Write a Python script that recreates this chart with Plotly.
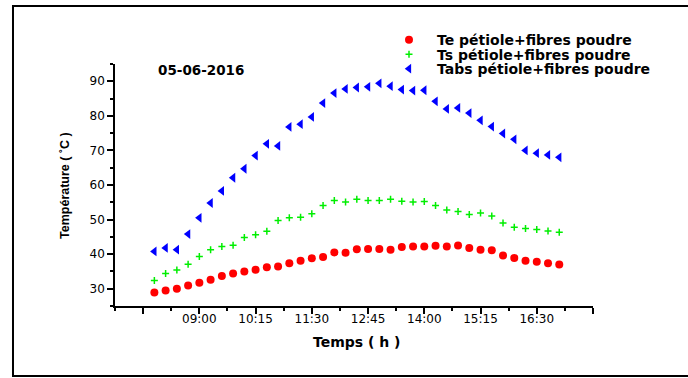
import plotly.graph_objects as go

# Sampling times (every quarter hour) and measured temperatures
times = [
    "08:00", "08:15", "08:30", "08:45", "09:00", "09:15", "09:30", "09:45",
    "10:00", "10:15", "10:30", "10:45", "11:00", "11:15", "11:30", "11:45",
    "12:00", "12:15", "12:30", "12:45", "13:00", "13:15", "13:30", "13:45",
    "14:00", "14:15", "14:30", "14:45", "15:00", "15:15", "15:30", "15:45",
    "16:00", "16:15", "16:30", "16:45", "17:00",
]

te = [28.9, 29.5, 30.0, 30.9, 31.7, 32.6, 33.7, 34.4, 35.0, 35.5, 36.2, 36.4,
      37.4, 38.1, 38.8, 39.2, 40.5, 40.4, 41.4, 41.5, 41.5, 41.3, 42.1, 42.2,
      42.2, 42.4, 42.2, 42.5, 41.8, 41.3, 41.1, 39.6, 38.9, 38.1, 37.8, 37.4,
      37.0]

ts = [32.4, 34.4, 35.4, 37.1, 39.3, 41.3, 42.2, 42.6, 44.8, 45.6, 46.6, 49.7,
      50.5, 50.7, 51.7, 54.1, 55.5, 55.1, 55.9, 55.5, 55.5, 55.9, 55.3, 55.1,
      55.2, 54.1, 52.8, 52.3, 51.5, 51.9, 51.0, 49.0, 47.8, 47.4, 47.1, 46.7,
      46.3]

tabs = [40.8, 41.8, 41.3, 45.8, 50.5, 54.8, 58.3, 62.1, 64.7, 68.5, 71.9, 71.3,
        76.8, 77.6, 79.7, 83.7, 86.6, 87.8, 88.2, 88.4, 89.4, 88.6, 87.6, 87.3,
        87.4, 84.2, 82.0, 82.3, 80.8, 78.7, 76.9, 74.9, 73.2, 70.0, 69.2, 68.7,
        68.0]

series_names = [
    "Te pétiole+fibres poudre",
    "Ts pétiole+fibres poudre",
    "Tabs pétiole+fibres poudre",
]

x_tick_times = ["07:45", "09:00", "10:15", "11:30", "12:45",
                "14:00", "15:15", "16:30", "17:45"]
x_tick_labels = ["", "09:00", "10:15", "11:30", "12:45",
                 "14:00", "15:15", "16:30", ""]
y_tick_vals = [30, 40, 50, 60, 70, 80, 90]


def to_minutes(hhmm):
    h, m = hhmm.split(":")
    return int(h) * 60 + int(m)


x = [to_minutes(t) for t in times]
x_tick_vals = [to_minutes(t) for t in x_tick_times]

bold14 = dict(family="DejaVu Sans", size=14, color="black", weight="bold")

fig = go.Figure()

fig.add_trace(go.Scatter(
    x=x, y=te, mode="markers", name=series_names[0], legend="legend",
    marker=dict(symbol="circle", size=8, color="#ff0000",
                line=dict(width=0)),
))
fig.add_trace(go.Scatter(
    x=x, y=ts, mode="markers", name=series_names[1], legend="legend2",
    marker=dict(symbol="cross-thin", size=5, color="#00ee00",
                line=dict(width=1.5, color="#00ee00")),
))
fig.add_trace(go.Scatter(
    x=x, y=tabs, mode="markers", name=series_names[2], legend="legend3",
    marker=dict(symbol="triangle-left", size=8.5, color="#0000ff",
                line=dict(width=0)),
))

legend_common = dict(
    xanchor="left", yanchor="middle", x=0.5565,
    bgcolor="rgba(0,0,0,0)", borderwidth=0, font=bold14, itemwidth=46,
)

axis_font = dict(family="DejaVu Sans", size=12, color="black")

fig.update_layout(
    width=688, height=378, autosize=False,
    margin=dict(l=115, r=95, t=64, b=72, pad=0),
    paper_bgcolor="white", plot_bgcolor="white",
    showlegend=True,
    legend=dict(legend_common, y=1.099),
    legend2=dict(legend_common, y=1.039),
    legend3=dict(legend_common, y=0.979),
    xaxis=dict(
        range=[427.5, 1065],
        tickmode="array", tickvals=x_tick_vals, ticktext=x_tick_labels,
        ticks="outside", ticklen=6, tickwidth=1.5, tickcolor="black",
        ticklabelstandoff=-5,
        minor=dict(tickmode="linear", tick0=427.5, dtick=75,
                   ticks="outside", ticklen=3.5, tickwidth=1.5,
                   tickcolor="black", showgrid=False),
        showline=True, linecolor="black", linewidth=1.5,
        showgrid=False, zeroline=False, tickfont=axis_font,
    ),
    yaxis=dict(
        range=[25, 95],
        tickmode="array", tickvals=y_tick_vals,
        ticks="outside", ticklen=6, tickwidth=1.5, tickcolor="black",
        minor=dict(tickmode="linear", tick0=25, dtick=10,
                   ticks="outside", ticklen=3.5, tickwidth=1.5,
                   tickcolor="black", showgrid=False),
        showline=True, linecolor="black", linewidth=1.5,
        showgrid=False, zeroline=False, tickfont=axis_font,
    ),
    annotations=[
        dict(text="Temps ( h )", xref="paper", yref="paper",
             x=0.506, y=-0.149, xanchor="center", yanchor="middle",
             showarrow=False, font=bold14),
        dict(text="Température ( ˚C )", xref="paper", yref="paper",
             x=-0.1046, y=0.496, xanchor="center", yanchor="middle",
             textangle=-90, showarrow=False,
             font=dict(family="Liberation Sans", size=12.5, color="black",
                       weight="bold")),
        dict(text="05-06-2016", xref="paper", yref="paper",
             x=0.0858, y=0.975, xanchor="left", yanchor="middle",
             showarrow=False,
             font=dict(family="DejaVu Sans", size=13.5, color="black",
                       weight="bold")),
    ],
    shapes=[
        dict(type="rect", xref="paper", yref="paper",
             x0=-0.2134, x1=1.224, y0=-0.289, y1=1.2397,
             line=dict(color="black", width=2), fillcolor="rgba(0,0,0,0)",
             layer="below"),
    ],
)

fig.write_html("out.html")
